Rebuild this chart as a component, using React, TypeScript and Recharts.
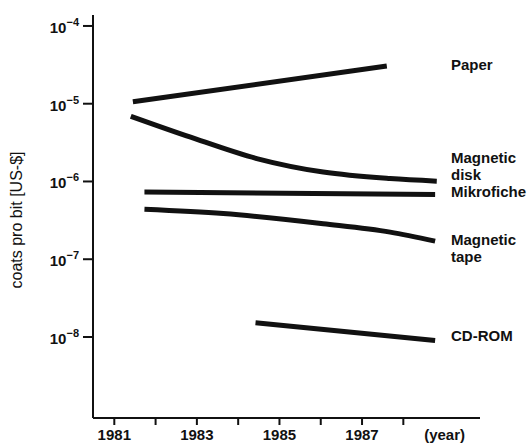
import React from 'react';
import { LineChart, Line, XAxis, YAxis } from 'recharts';

// axis ticks
const yearTicks = [1981, 1982, 1983, 1984, 1985, 1986, 1987, 1988, 1989];
const yearLabels = ['1981', '', '1983', '', '1985', '', '1987', '', '(year)'];
const costTicks = [1e-4, 1e-5, 1e-6, 1e-7, 1e-8];

// series
const paperYears = [1981.45, 1987.6];
const paperCost = [1.06e-5, 3.05e-5];

const diskYears = [1981.4, 1982.83, 1984.45, 1986.06, 1987.68, 1988.81];
const diskCost = [6.9e-6, 3.74e-6, 1.97e-6, 1.32e-6, 1.09e-6, 1.01e-6];

const ficheYears = [1981.73, 1988.77];
const ficheCost = [7.33e-7, 6.79e-7];

const tapeYears = [1981.73, 1983.64, 1986.06, 1987.68, 1988.77];
const tapeCost = [4.38e-7, 3.86e-7, 2.86e-7, 2.23e-7, 1.71e-7];

const cdromYears = [1984.42, 1988.77];
const cdromCost = [1.52e-8, 9.0e-9];

const zip = (years: number[], costs: number[]) =>
  years.map((year, i) => ({ year, cost: costs[i] }));

const FONT = '"Liberation Sans", Arial, Helvetica, sans-serif';
const INK = '#111';

const YearTick = ({ x, y, payload }: any) => {
  const idx = yearTicks.indexOf(payload.value);
  const label = yearLabels[idx] ?? '';
  return (
    <g>
      {payload.value <= 1988 && (
        <line x1={x} x2={x} y1={y} y2={y + 7} stroke={INK} strokeWidth={2} />
      )}
      {label && (
        <text
          x={x}
          y={y + 22}
          textAnchor="middle"
          fontFamily={FONT}
          fontWeight="bold"
          fontSize={15}
          fill={INK}
        >
          {label}
        </text>
      )}
    </g>
  );
};

const CostTick = ({ x, y, payload }: any) => {
  const exp = Math.round(Math.log10(payload.value));
  return (
    <g>
      <line x1={x - 10} x2={x} y1={y} y2={y} stroke={INK} strokeWidth={2} />
      <text x={x - 14} y={y + 7} textAnchor="end" fontFamily={FONT} fill={INK}>
        <tspan fontSize={15} fontWeight="bold">10</tspan>
        <tspan fontSize={11} fontWeight="bold" dy={-7}>{`\u2212${Math.abs(exp)}`}</tspan>
      </text>
    </g>
  );
};

const labelStyle = {
  fontFamily: FONT,
  fontWeight: 'bold' as const,
  fontSize: 15,
  fill: INK,
};

const App: React.FC = () => {
  const series = [
    { key: 'paper', data: zip(paperYears, paperCost), type: 'linear' as const },
    { key: 'disk', data: zip(diskYears, diskCost), type: 'monotone' as const },
    { key: 'fiche', data: zip(ficheYears, ficheCost), type: 'linear' as const },
    { key: 'tape', data: zip(tapeYears, tapeCost), type: 'monotone' as const },
    { key: 'cdrom', data: zip(cdromYears, cdromCost), type: 'linear' as const },
  ];

  return (
    <div style={{ position: 'absolute', left: 0, top: 0, width: 528, height: 444, background: '#fff' }}>
      <LineChart
        width={528}
        height={444}
        margin={{ top: 15, right: 48, bottom: 0, left: 0 }}
      >
        <XAxis
          dataKey="year"
          type="number"
          domain={[1980.484, 1989.857]}
          allowDataOverflow
          ticks={yearTicks}
          interval={0}
          height={26}
          tickSize={0}
          tickMargin={0}
          tickLine={false}
          axisLine={{ stroke: INK, strokeWidth: 2 }}
          tick={<YearTick />}
        />
        <YAxis
          dataKey="cost"
          scale="log"
          domain={[Math.pow(10, -9.042), Math.pow(10, -3.859)]}
          allowDataOverflow
          ticks={costTicks}
          interval={0}
          width={93}
          tickSize={0}
          tickMargin={0}
          tickLine={false}
          axisLine={{ stroke: INK, strokeWidth: 2 }}
          tick={<CostTick />}
        />
        {series.map((s) => (
          <Line
            key={s.key}
            data={s.data}
            dataKey="cost"
            type={s.type}
            stroke={INK}
            strokeWidth={5}
            dot={false}
            activeDot={false}
            isAnimationActive={false}
          />
        ))}
      </LineChart>
      <svg
        width={528}
        height={444}
        style={{ position: 'absolute', left: 0, top: 0, pointerEvents: 'none' }}
      >
        <text
          transform="translate(22,220) rotate(-90)"
          textAnchor="middle"
          fontFamily={FONT}
          fontSize={16}
          fill={INK}
        >
          coats pro bit [US-$]
        </text>
        <text x={451} y={70} {...labelStyle}>Paper</text>
        <text x={451} y={163} {...labelStyle}>Magnetic</text>
        <text x={451} y={180} {...labelStyle}>disk</text>
        <text x={451} y={197} {...labelStyle}>Mikrofiche</text>
        <text x={451} y={245} {...labelStyle}>Magnetic</text>
        <text x={451} y={262} {...labelStyle}>tape</text>
        <text x={451} y={341} {...labelStyle}>CD-ROM</text>
      </svg>
    </div>
  );
};

export default App;
